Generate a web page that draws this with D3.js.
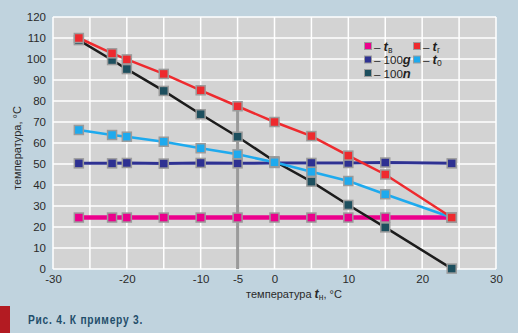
<!DOCTYPE html>
<html>
<head>
<meta charset="utf-8">
<script src="https://cdn.jsdelivr.net/npm/d3@7"></script>
<style>
  html, body { margin: 0; padding: 0; background: #c0d3de; }
  svg { display: block; }
  text { font-family: "Liberation Sans Narrow", "Arial Narrow", "Liberation Sans", sans-serif; }
</style>
</head>
<body>
<svg id="chart" width="518" height="333"></svg>
<script>
// Outdoor temperature points, °C
const outdoorT = [-26.5, -22, -20, -15, -10, -5, 0, 5, 10, 15, 24];

// Series values at each outdoor temperature
const tIndoor  = [24.5, 24.5, 24.5, 24.5, 24.5, 24.5, 24.5, 24.5, 24.5, 24.5, 24.5]; // t_в
const tSupply  = [110, 102.7, 99.8, 92.9, 85.1, 77.5, 70, 63.3, 54, 45, 24.5];      // t_г
const flow100g = [50.3, 50.3, 50.5, 50.2, 50.5, 50.3, 50.5, 50.5, 50.5, 50.7, 50.3]; // 100g
const tReturn  = [66.2, 63.8, 63, 60.6, 57.5, 54.6, 50.8, 46.3, 41.9, 35.6, 24.5];  // t_0
const ratio100n = [109, 99.5, 95.2, 84.8, 73.7, 63, 51.3, 41.6, 30.5, 19.8, 0.2];   // 100n

const xTicks = [-30, -20, -10, -5, 0, 10, 20, 30];
const yTicks = [0, 10, 20, 30, 40, 50, 60, 70, 80, 90, 100, 110, 120];

const svg = d3.select("#chart");
const plotLeft = 53, plotRight = 496, plotTop = 17, plotBottom = 269;

const x = d3.scaleLinear().domain([-30, 30]).range([plotLeft, plotRight]);
const y = d3.scaleLinear().domain([0, 120]).range([plotBottom, plotTop]);

// plot background
svg.append("rect").attr("x", plotLeft).attr("y", plotTop)
  .attr("width", plotRight - plotLeft).attr("height", plotBottom - plotTop)
  .attr("fill", "#d3d3d3");

// grid
const g = svg.append("g");
g.selectAll("line.v").data(d3.range(-30, 31, 5)).enter().append("line")
  .attr("x1", d => x(d)).attr("x2", d => x(d))
  .attr("y1", plotTop).attr("y2", plotBottom)
  .attr("stroke", "#ffffff").attr("stroke-width", 1.5);
g.selectAll("line.h").data(d3.range(0, 121, 10)).enter().append("line")
  .attr("x1", plotLeft).attr("x2", plotRight)
  .attr("y1", d => y(d)).attr("y2", d => y(d))
  .attr("stroke", "#ffffff").attr("stroke-width", 1.5);

// vertical marker at -5 °C up to the supply temperature
svg.append("line")
  .attr("x1", x(-5)).attr("x2", x(-5))
  .attr("y1", y(0)).attr("y2", y(tSupply[outdoorT.indexOf(-5)]))
  .attr("stroke", "#9a9a9a").attr("stroke-width", 3);

// axes
const xAxis = svg.append("g").attr("transform", `translate(0,${plotBottom})`)
  .call(d3.axisBottom(x).tickValues(xTicks).tickSize(0).tickPadding(6).tickFormat(d3.format("d")));
const yAxis = svg.append("g").attr("transform", `translate(${plotLeft},0)`)
  .call(d3.axisLeft(y).tickValues(yTicks).tickSize(0).tickPadding(7));
[xAxis, yAxis].forEach(a => {
  a.select(".domain").remove();
  a.selectAll("text").attr("font-size", 11.5).attr("fill", "#2a2a2a")
    .style("font-family", '"Liberation Sans Narrow", "Arial Narrow", sans-serif');
});
xAxis.selectAll("text").text(d => d < 0 ? "-" + Math.abs(d) : d);

// axis titles
svg.append("text")
  .attr("transform", `translate(21,148) rotate(-90)`)
  .attr("text-anchor", "middle").attr("font-size", 11).attr("fill", "#2a2a2a")
  .text("температура, °С");

const xt = svg.append("text").attr("x", 294).attr("y", 298)
  .attr("text-anchor", "middle").attr("font-size", 11).attr("fill", "#2a2a2a");
xt.append("tspan").text("температура ");
xt.append("tspan").attr("font-weight", "bold").attr("font-style", "italic").attr("font-size", 12.5).text("t");
xt.append("tspan").attr("font-size", 8.5).attr("dy", 2).text("н");
xt.append("tspan").attr("dy", -2).text(", °С");

// series definitions, drawn in this order
const series = [
  { values: tIndoor,   line: "#ec008c", fill: "#ec008c", width: 4.5 },
  { values: flow100g,  line: "#2e3192", fill: "#2e3192", width: 3 },
  { values: ratio100n, line: "#1c1c1c", fill: "#1d4f5e", width: 2.5 },
  { values: tReturn,   line: "#1eaaee", fill: "#1eaaee", width: 2.5 },
  { values: tSupply,   line: "#ee2a2e", fill: "#ee2a2e", width: 2.5 }
];

const lineGen = d3.line().x(d => x(d[0])).y(d => y(d[1]));
series.forEach(s => {
  const pts = outdoorT.map((t, i) => [t, s.values[i]]);
  svg.append("path").datum(pts).attr("d", lineGen)
    .attr("fill", "none").attr("stroke", s.line).attr("stroke-width", s.width);
});
series.forEach(s => {
  const pts = outdoorT.map((t, i) => [t, s.values[i]]);
  svg.append("g").selectAll("rect").data(pts).enter().append("rect")
    .attr("x", d => x(d[0]) - 4.5).attr("y", d => y(d[1]) - 4.5)
    .attr("width", 9).attr("height", 9)
    .attr("fill", s.fill).attr("stroke", "#9b9b9b").attr("stroke-width", 1.5);
});

// legend
const legendItems = [
  { col: 0, row: 0, fill: "#ec008c", label: ["t", "в"] },
  { col: 1, row: 0, fill: "#ee2a2e", label: ["t", "г"] },
  { col: 0, row: 1, fill: "#2e3192", label: ["100", "g"] },
  { col: 1, row: 1, fill: "#1eaaee", label: ["t", "0"] },
  { col: 0, row: 2, fill: "#1d4f5e", label: ["100", "n"] }
];
const lg = svg.append("g");
legendItems.forEach(it => {
  const lx = 368 + it.col * 49, ly = 46 + it.row * 13.5;
  lg.append("rect").attr("x", lx - 3.5).attr("y", ly - 3.5).attr("width", 7).attr("height", 7)
    .attr("fill", it.fill).attr("stroke", "#9b9b9b").attr("stroke-width", 1);
  const t = lg.append("text").attr("x", lx + 6).attr("y", ly + 4.5)
    .attr("font-size", 11.5).attr("fill", "#1f1f1f");
  t.append("tspan").text("– ");
  if (it.label[0] === "t") {
    t.append("tspan").attr("font-weight", "bold").attr("font-style", "italic").attr("font-size", 13).text("t");
    t.append("tspan").attr("font-size", 8.5).attr("dy", 2).text(it.label[1]);
  } else {
    t.append("tspan").text(it.label[0]);
    t.append("tspan").attr("font-weight", "bold").attr("font-style", "italic").attr("font-size", 13).text(it.label[1]);
  }
});

// caption
svg.append("rect").attr("x", 0).attr("y", 306).attr("width", 10).attr("height", 27).attr("fill", "#b31b22");
svg.append("text").attr("transform", "translate(28,324) scale(0.82,1)")
  .attr("font-size", 12.5).attr("font-weight", "bold").attr("fill", "#1f4e6b")
  .attr("letter-spacing", 0.9)
  .style("font-family", '"Liberation Sans", sans-serif')
  .text("Рис. 4. К примеру 3.");
</script>
</body>
</html>
